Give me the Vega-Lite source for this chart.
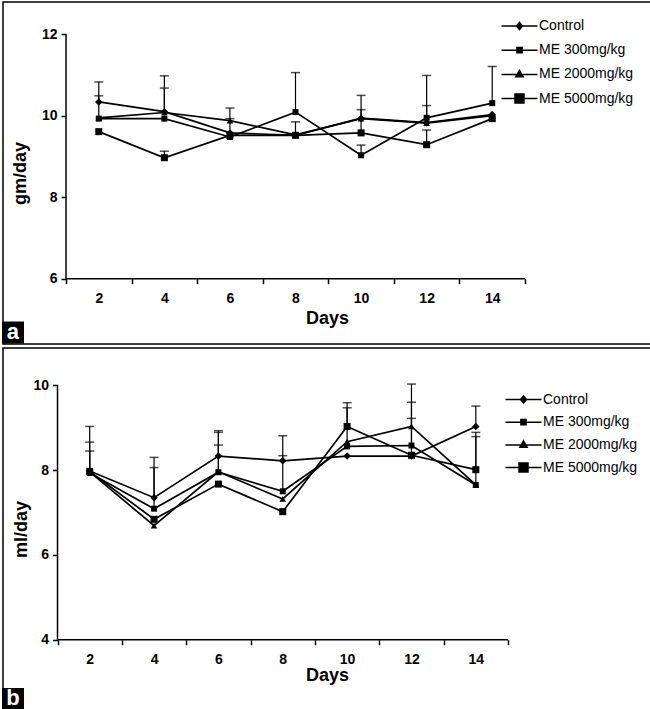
{
  "$schema": "https://vega.github.io/schema/vega-lite/v6.json",
  "padding": {"left": 1, "top": 1, "right": 1, "bottom": 1},
  "background": "white",
  "spacing": 2,
  "datasets": {
    "a": [
      {"day": 2, "series": "Control", "value": 10.34, "upper": 10.83},
      {"day": 4, "series": "Control", "value": 10.10, "upper": 10.98},
      {"day": 6, "series": "Control", "value": 9.58, "upper": 9.93},
      {"day": 8, "series": "Control", "value": 9.52},
      {"day": 10, "series": "Control", "value": 9.94, "upper": 10.50},
      {"day": 12, "series": "Control", "value": 9.83, "upper": 10.25},
      {"day": 14, "series": "Control", "value": 10.03},
      {"day": 2, "series": "ME 300mg/kg", "value": 9.61},
      {"day": 4, "series": "ME 300mg/kg", "value": 8.97, "upper": 9.13},
      {"day": 6, "series": "ME 300mg/kg", "value": 9.52},
      {"day": 8, "series": "ME 300mg/kg", "value": 9.52, "upper": 9.85},
      {"day": 10, "series": "ME 300mg/kg", "value": 9.58, "upper": 10.15},
      {"day": 12, "series": "ME 300mg/kg", "value": 9.29, "upper": 9.65},
      {"day": 14, "series": "ME 300mg/kg", "value": 9.93},
      {"day": 2, "series": "ME 2000mg/kg", "value": 9.95},
      {"day": 4, "series": "ME 2000mg/kg", "value": 10.08, "upper": 10.68},
      {"day": 6, "series": "ME 2000mg/kg", "value": 9.88, "upper": 10.19},
      {"day": 8, "series": "ME 2000mg/kg", "value": 9.53},
      {"day": 10, "series": "ME 2000mg/kg", "value": 9.93},
      {"day": 12, "series": "ME 2000mg/kg", "value": 9.82},
      {"day": 14, "series": "ME 2000mg/kg", "value": 10.00},
      {"day": 2, "series": "ME 5000mg/kg", "value": 9.93, "upper": 10.49},
      {"day": 4, "series": "ME 5000mg/kg", "value": 9.93},
      {"day": 6, "series": "ME 5000mg/kg", "value": 9.48},
      {"day": 8, "series": "ME 5000mg/kg", "value": 10.09, "upper": 11.06},
      {"day": 10, "series": "ME 5000mg/kg", "value": 9.03, "upper": 9.28},
      {"day": 12, "series": "ME 5000mg/kg", "value": 9.95, "upper": 10.99},
      {"day": 14, "series": "ME 5000mg/kg", "value": 10.31, "upper": 11.21}
    ],
    "b": [
      {"day": 2, "series": "Control", "value": 7.98, "upper": 9.03},
      {"day": 4, "series": "Control", "value": 7.35, "upper": 8.30},
      {"day": 6, "series": "Control", "value": 8.33, "upper": 8.93},
      {"day": 8, "series": "Control", "value": 8.22, "upper": 8.81},
      {"day": 10, "series": "Control", "value": 8.33},
      {"day": 12, "series": "Control", "value": 8.33, "upper": 9.22},
      {"day": 14, "series": "Control", "value": 9.03, "upper": 9.51},
      {"day": 2, "series": "ME 300mg/kg", "value": 7.97, "upper": 8.45},
      {"day": 4, "series": "ME 300mg/kg", "value": 6.84},
      {"day": 6, "series": "ME 300mg/kg", "value": 7.67},
      {"day": 8, "series": "ME 300mg/kg", "value": 7.02},
      {"day": 10, "series": "ME 300mg/kg", "value": 9.03, "upper": 9.59},
      {"day": 12, "series": "ME 300mg/kg", "value": 8.35},
      {"day": 14, "series": "ME 300mg/kg", "value": 8.01, "upper": 8.89},
      {"day": 2, "series": "ME 2000mg/kg", "value": 7.96, "upper": 8.66},
      {"day": 4, "series": "ME 2000mg/kg", "value": 6.69},
      {"day": 6, "series": "ME 2000mg/kg", "value": 7.96, "upper": 8.89},
      {"day": 8, "series": "ME 2000mg/kg", "value": 7.32},
      {"day": 10, "series": "ME 2000mg/kg", "value": 8.67, "upper": 9.47},
      {"day": 12, "series": "ME 2000mg/kg", "value": 9.03, "upper": 10.03},
      {"day": 14, "series": "ME 2000mg/kg", "value": 7.65},
      {"day": 2, "series": "ME 5000mg/kg", "value": 7.93},
      {"day": 4, "series": "ME 5000mg/kg", "value": 7.09, "upper": 8.06},
      {"day": 6, "series": "ME 5000mg/kg", "value": 7.95, "upper": 8.59},
      {"day": 8, "series": "ME 5000mg/kg", "value": 7.50, "upper": 8.34},
      {"day": 10, "series": "ME 5000mg/kg", "value": 8.56},
      {"day": 12, "series": "ME 5000mg/kg", "value": 8.58, "upper": 9.60},
      {"day": 14, "series": "ME 5000mg/kg", "value": 7.65, "upper": 8.79}
    ]
  },
  "vconcat": [
    {
      "width": 648,
      "height": 342,
      "data": {"name": "a"},
      "resolve": {"axis": {"x": "independent", "y": "independent"}, "scale": {"shape": "independent", "size": "independent"}},
      "layer": [
        {
          "data": {"values": [{}]},
          "mark": {"type": "rule", "color": "black", "strokeWidth": 1.5},
          "encoding": {
            "x": {"datum": 1, "type": "quantitative", "axis": null, "scale": {"domain": [-0.9216, 18.843], "nice": false, "zero": false}},
            "x2": {"datum": 15},
            "y": {"datum": 6, "type": "quantitative", "axis": null, "scale": {"domain": [4.397, 12.793], "nice": false, "zero": false}}
          }
        },
        {
          "data": {"values": [{}]},
          "mark": {"type": "rule", "color": "black", "strokeWidth": 1.5},
          "encoding": {
            "x": {"datum": 1, "type": "quantitative", "axis": null},
            "y": {"datum": 6, "type": "quantitative", "axis": null},
            "y2": {"datum": 12}
          }
        },
        {
          "transform": [{"filter": "isValid(datum.upper)"}],
          "mark": {"type": "rule", "color": "black", "strokeWidth": 1.2},
          "encoding": {
            "x": {"field": "day", "type": "quantitative", "axis": null},
            "y": {"field": "value", "type": "quantitative", "axis": null},
            "y2": {"field": "upper"}
          }
        },
        {
          "transform": [{"filter": "isValid(datum.upper)"}],
          "mark": {"type": "tick", "orient": "horizontal", "color": "black", "size": 9, "thickness": 1.5},
          "encoding": {
            "x": {"field": "day", "type": "quantitative", "axis": null},
            "y": {"field": "upper", "type": "quantitative", "axis": null}
          }
        },
        {
          "mark": {"type": "line", "color": "black", "strokeWidth": 1.7},
          "encoding": {
            "x": {"field": "day", "type": "quantitative", "axis": {"orient": "bottom", "values": [1, 3, 5, 7, 9, 11, 13, 15], "labels": false, "ticks": true, "domain": false, "title": null, "offset": -65.3}},
            "y": {"field": "value", "type": "quantitative", "axis": null},
            "detail": {"field": "series"}
          }
        },
        {
          "mark": {"type": "point", "filled": true, "color": "black", "opacity": 1},
          "encoding": {
            "x": {"field": "day", "type": "quantitative", "axis": {"orient": "bottom", "values": [2, 4, 6, 8, 10, 12, 14], "ticks": false, "domain": false, "labelPadding": 13, "title": "Days", "titlePadding": 4, "offset": -65.3}},
            "y": {"field": "value", "type": "quantitative", "axis": {"orient": "left", "values": [6, 8, 10, 12], "domain": false, "labelPadding": 4, "title": "gm/day", "titlePadding": 12, "offset": -63}},
            "shape": {"field": "series", "type": "nominal", "scale": {"domain": ["Control", "ME 300mg/kg", "ME 2000mg/kg", "ME 5000mg/kg"], "range": ["diamond", "square", "triangle-up", "square"]}, "legend": null},
            "size": {"field": "series", "type": "ordinal", "scale": {"domain": ["Control", "ME 300mg/kg", "ME 2000mg/kg", "ME 5000mg/kg"], "range": [56, 36, 64, 90]}, "legend": null}
          }
        },
        {
          "transform": [{"filter": "false"}],
          "mark": {"type": "point", "filled": false, "color": "black", "strokeWidth": 1.5, "opacity": 1},
          "encoding": {
            "shape": {
              "field": "series", "type": "nominal",
              "scale": {"domain": ["Control", "ME 300mg/kg", "ME 2000mg/kg", "ME 5000mg/kg"], "range": [
                "M-2,0H2M-0.33,0L0,-0.4L0.33,0L0,0.4ZM-0.165,0L0,-0.2L0.165,0L0,0.2ZM-0.03,0L0,-0.04L0.03,0L0,0.04Z",
                "M-2,0H2M-0.29,-0.29H0.29V0.29H-0.29ZM-0.145,-0.145H0.145V0.145H-0.145ZM-0.02,-0.02H0.02V0.02H-0.02Z",
                "M-2,0H2M0,-0.45L0.4,0.25H-0.4ZM0,-0.225L0.2,0.125H-0.2ZM0,-0.045L0.04,0.025H-0.04Z",
                "M-2,0H2M-0.5,-0.5H0.5V0.5H-0.5ZM-0.333,-0.333H0.333V0.333H-0.333ZM-0.167,-0.167H0.167V0.167H-0.167ZM-0.03,-0.03H0.03V0.03H-0.03Z"
              ]},
              "legend": {"orient": "none", "legendX": 506.5, "legendY": 14, "title": null, "symbolSize": 324, "rowPadding": 7.2, "labelOffset": 9.5, "padding": 0, "symbolStrokeWidth": 1.5, "symbolStrokeColor": "black", "symbolOpacity": 1}
            }
          }
        },
        {
          "data": {"values": [{}]},
          "mark": {"type": "point", "shape": "square", "filled": true, "color": "black", "size": 484, "opacity": 1},
          "encoding": {
            "x": {"datum": -0.6166, "type": "quantitative", "axis": null},
            "y": {"datum": 4.679, "type": "quantitative", "axis": null}
          }
        },
        {
          "data": {"values": [{}]},
          "mark": {"type": "text", "text": "a", "color": "white", "font": "Liberation Sans", "fontSize": 22, "fontWeight": "bold", "align": "center", "baseline": "middle", "dy": -1},
          "encoding": {
            "x": {"datum": -0.6166, "type": "quantitative", "axis": null},
            "y": {"datum": 4.679, "type": "quantitative", "axis": null}
          }
        }
      ]
    },
    {
      "width": 648,
      "height": 362,
      "data": {"name": "b"},
      "resolve": {"axis": {"x": "independent", "y": "independent"}, "scale": {"shape": "independent", "size": "independent"}},
      "layer": [
        {
          "data": {"values": [{}]},
          "mark": {"type": "rule", "color": "black", "strokeWidth": 1.5},
          "encoding": {
            "x": {"datum": 1, "type": "quantitative", "axis": null, "scale": {"domain": [-0.694, 19.444], "nice": false, "zero": false}},
            "x2": {"datum": 15},
            "y": {"datum": 4, "type": "quantitative", "axis": null, "scale": {"domain": [2.342, 10.88], "nice": false, "zero": false}}
          }
        },
        {
          "data": {"values": [{}]},
          "mark": {"type": "rule", "color": "black", "strokeWidth": 1.5},
          "encoding": {
            "x": {"datum": 1, "type": "quantitative", "axis": null},
            "y": {"datum": 4, "type": "quantitative", "axis": null},
            "y2": {"datum": 10}
          }
        },
        {
          "transform": [{"filter": "isValid(datum.upper)"}],
          "mark": {"type": "rule", "color": "black", "strokeWidth": 1.2},
          "encoding": {
            "x": {"field": "day", "type": "quantitative", "axis": null},
            "y": {"field": "value", "type": "quantitative", "axis": null},
            "y2": {"field": "upper"}
          }
        },
        {
          "transform": [{"filter": "isValid(datum.upper)"}],
          "mark": {"type": "tick", "orient": "horizontal", "color": "black", "size": 9, "thickness": 1.5},
          "encoding": {
            "x": {"field": "day", "type": "quantitative", "axis": null},
            "y": {"field": "upper", "type": "quantitative", "axis": null}
          }
        },
        {
          "mark": {"type": "line", "color": "black", "strokeWidth": 1.7},
          "encoding": {
            "x": {"field": "day", "type": "quantitative", "axis": {"orient": "bottom", "values": [1, 3, 5, 7, 9, 11, 13, 15], "labels": false, "ticks": true, "domain": false, "title": null, "offset": -70.3}},
            "y": {"field": "value", "type": "quantitative", "axis": null},
            "detail": {"field": "series"}
          }
        },
        {
          "mark": {"type": "point", "filled": true, "color": "black", "opacity": 1},
          "encoding": {
            "x": {"field": "day", "type": "quantitative", "axis": {"orient": "bottom", "values": [2, 4, 6, 8, 10, 12, 14], "ticks": false, "domain": false, "labelPadding": 13, "title": "Days", "titlePadding": 0, "offset": -70.3}},
            "y": {"field": "value", "type": "quantitative", "axis": {"orient": "left", "values": [4, 6, 8, 10], "domain": false, "labelPadding": 4, "title": "ml/day", "titlePadding": 2, "offset": -54.5}},
            "shape": {"field": "series", "type": "nominal", "scale": {"domain": ["Control", "ME 300mg/kg", "ME 2000mg/kg", "ME 5000mg/kg"], "range": ["diamond", "square", "triangle-up", "square"]}, "legend": null},
            "size": {"field": "series", "type": "ordinal", "scale": {"domain": ["Control", "ME 300mg/kg", "ME 2000mg/kg", "ME 5000mg/kg"], "range": [56, 36, 64, 90]}, "legend": null}
          }
        },
        {
          "transform": [{"filter": "false"}],
          "mark": {"type": "point", "filled": false, "color": "black", "strokeWidth": 1.5, "opacity": 1},
          "encoding": {
            "shape": {
              "field": "series", "type": "nominal",
              "scale": {"domain": ["Control", "ME 300mg/kg", "ME 2000mg/kg", "ME 5000mg/kg"], "range": [
                "M-2,0H2M-0.33,0L0,-0.4L0.33,0L0,0.4ZM-0.165,0L0,-0.2L0.165,0L0,0.2ZM-0.03,0L0,-0.04L0.03,0L0,0.04Z",
                "M-2,0H2M-0.29,-0.29H0.29V0.29H-0.29ZM-0.145,-0.145H0.145V0.145H-0.145ZM-0.02,-0.02H0.02V0.02H-0.02Z",
                "M-2,0H2M0,-0.45L0.4,0.25H-0.4ZM0,-0.225L0.2,0.125H-0.2ZM0,-0.045L0.04,0.025H-0.04Z",
                "M-2,0H2M-0.5,-0.5H0.5V0.5H-0.5ZM-0.333,-0.333H0.333V0.333H-0.333ZM-0.167,-0.167H0.167V0.167H-0.167ZM-0.03,-0.03H0.03V0.03H-0.03Z"
              ]},
              "legend": {"orient": "none", "legendX": 510.5, "legendY": 41.5, "title": null, "symbolSize": 324, "rowPadding": 5.7, "labelOffset": 9.5, "padding": 0, "symbolStrokeWidth": 1.5, "symbolStrokeColor": "black", "symbolOpacity": 1}
            }
          }
        },
        {
          "data": {"values": [{}]},
          "mark": {"type": "point", "shape": "square", "filled": true, "color": "black", "size": 484, "opacity": 1},
          "encoding": {
            "x": {"datum": -0.383, "type": "quantitative", "axis": null},
            "y": {"datum": 2.602, "type": "quantitative", "axis": null}
          }
        },
        {
          "data": {"values": [{}]},
          "mark": {"type": "text", "text": "b", "color": "white", "font": "Liberation Sans", "fontSize": 22, "fontWeight": "bold", "align": "center", "baseline": "middle", "dy": -1},
          "encoding": {
            "x": {"datum": -0.383, "type": "quantitative", "axis": null},
            "y": {"datum": 2.602, "type": "quantitative", "axis": null}
          }
        }
      ]
    }
  ],
  "config": {
    "font": "Liberation Sans",
    "view": {"stroke": "black", "strokeWidth": 1.5},
    "axis": {
      "grid": false,
      "labelFont": "Liberation Sans",
      "labelFontSize": 14,
      "labelFontWeight": "bold",
      "labelColor": "black",
      "titleFont": "Liberation Sans",
      "titleFontSize": 18,
      "titleFontWeight": "bold",
      "titleColor": "black",
      "tickColor": "black",
      "tickWidth": 1.5,
      "tickSize": 5
    },
    "legend": {
      "labelFont": "Liberation Sans",
      "labelFontSize": 14,
      "labelColor": "black",
      "labelLimit": 300
    }
  }
}
